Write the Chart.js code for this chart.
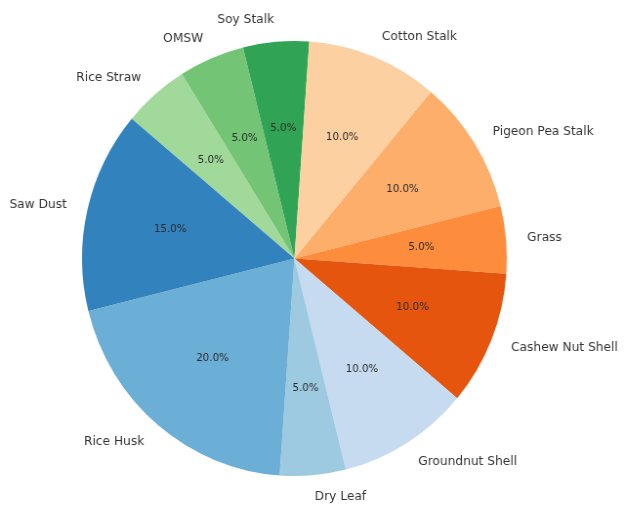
<!DOCTYPE html>
<html>
<head>
<meta charset="utf-8">
<script src="https://cdn.jsdelivr.net/npm/chart.js@4"></script>
<style>
    html, body { margin: 0; padding: 0; background: #fff; overflow: hidden; }
    #wrap { width: 639px; height: 506px; transform: scaleX(0.9765); transform-origin: 0 0; }
    canvas { display: block; }
</style>
</head>
<body>
<div id="wrap">
<canvas id="biomassPie" width="639" height="506"></canvas>
</div>
<script>
// Biomass share, listed clockwise starting from Rice Straw
var materials = ["Rice Straw", "OMSW", "Soy Stalk", "Cotton Stalk", "Pigeon Pea Stalk", "Grass",
    "Cashew Nut Shell", "Groundnut Shell", "Dry Leaf", "Rice Husk", "Saw Dust"];
var shares = [5, 5, 5, 10, 10, 5, 10, 10, 5, 20, 15];
var sliceColors = ["#a1d99b", "#74c476", "#31a354", "#fdd0a2", "#fdae6b", "#fd8d3c",
    "#e6550d", "#c6dbef", "#9ecae1", "#6baed6", "#3182bd"];

// Draws category names outside the pie and percentages inside each slice
var sliceLabels = {
    id: "sliceLabels",
    afterDatasetsDraw: function (chart) {
        var ctx = chart.ctx;
        var arcs = chart.getDatasetMeta(0).data;
        var total = shares.reduce(function (a, b) { return a + b; }, 0);
        ctx.save();
        ctx.textBaseline = "middle";
        arcs.forEach(function (arc, i) {
            var mid = (arc.startAngle + arc.endAngle) / 2;
            var r = arc.outerRadius;
            var cx = Math.cos(mid), cy = Math.sin(mid);

            // name at 1.1 radius
            ctx.fillStyle = "#333";
            ctx.font = "12.5px 'DejaVu Sans'";
            ctx.textAlign = cx > 0 ? "left" : "right";
            ctx.fillText(materials[i], arc.x + cx * r * 1.1, arc.y + cy * r * 1.1);

            // percentage at 0.6 radius
            ctx.fillStyle = "#2b2b2b";
            ctx.font = "10.5px 'DejaVu Sans'";
            ctx.textAlign = "center";
            var pct = (shares[i] / total * 100).toFixed(1) + "%";
            ctx.fillText(pct, arc.x + cx * r * 0.6, arc.y + cy * r * 0.6);
        });
        ctx.restore();
    }
};

var pieCtx = document.getElementById("biomassPie").getContext("2d");
var pieChart = new Chart(pieCtx, {
    type: "pie",
    data: {
        labels: materials,
        datasets: [{
            data: shares,
            backgroundColor: sliceColors,
            borderWidth: 0
        }]
    },
    options: {
        responsive: false,
        animation: false,
        rotation: -50,
        layout: {
            padding: { left: 84, right: 120, top: 41, bottom: 30 }
        },
        plugins: {
            legend: { display: false },
            tooltip: { enabled: false }
        }
    },
    plugins: [sliceLabels]
});
</script>
</body>
</html>
